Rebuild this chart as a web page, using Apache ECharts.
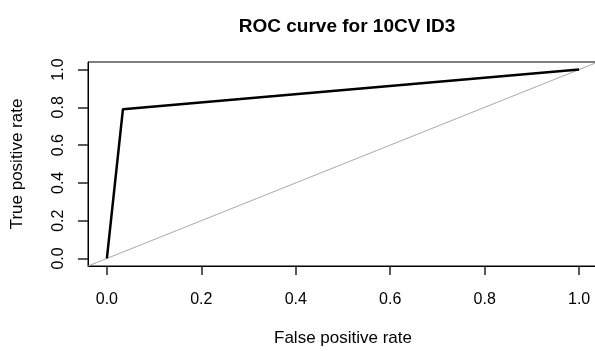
<!DOCTYPE html>
<html>
<head>
<meta charset="utf-8">
<script src="https://cdn.jsdelivr.net/npm/echarts@6/dist/echarts.min.js"></script>
<style>
  html, body { margin: 0; padding: 0; background: #fff; }
  #chart { width: 595px; height: 351px; }
</style>
</head>
<body>
<div id="chart"></div>
<script>
// ROC curve points (false positive rate, true positive rate)
const fpr = [0, 0.034, 1];
const tpr = [0, 0.79, 1];
// chance diagonal y = x, spanning past the plot region and clipped
const chanceX = [-0.1, 1.1];
const chanceY = [-0.1, 1.1];
// tick positions shared by both axes
const ticks = [0, 0.2, 0.4, 0.6, 0.8, 1.0];

const font = '"Liberation Sans", Arial, sans-serif';

const chart = echarts.init(document.getElementById('chart'), null, { renderer: 'canvas' });

chart.setOption({
  animation: false,
  backgroundColor: '#ffffff',
  title: {
    text: 'ROC curve for 10CV ID3',
    left: 342,
    textAlign: 'center',
    top: 12,
    textStyle: { fontFamily: font, fontSize: 19, fontWeight: 'bold', color: '#000' }
  },
  grid: {
    left: 88, right: -3, top: 62, bottom: 85,
    outerBoundsMode: 'none',
    show: true, borderColor: '#000', borderWidth: 1, backgroundColor: 'transparent'
  },
  xAxis: {
    type: 'value',
    min: -0.04, max: 1.04,
    name: 'False positive rate',
    nameLocation: 'middle',
    nameGap: 64,
    nameTextStyle: { fontFamily: font, fontSize: 17, color: '#000' },
    axisLine: { show: true, onZero: false, lineStyle: { color: '#000', width: 1 } },
    axisTick: { show: true, inside: false, length: 9, customValues: ticks, lineStyle: { color: '#222', width: 1.5 } },
    axisLabel: {
      customValues: ticks, margin: 26,
      fontFamily: font, fontSize: 16, color: '#000',
      formatter: v => v.toFixed(1)
    },
    splitLine: { show: false }
  },
  yAxis: {
    type: 'value',
    min: -0.04, max: 1.04,
    name: 'True positive rate',
    nameLocation: 'middle',
    nameGap: 62,
    nameRotate: 90,
    nameTextStyle: { fontFamily: font, fontSize: 17, color: '#000' },
    axisLine: { show: true, onZero: false, lineStyle: { color: '#000', width: 1 } },
    axisTick: { show: true, inside: false, length: 10, customValues: ticks, lineStyle: { color: '#222', width: 1.5 } },
    axisLabel: {
      customValues: ticks, margin: 29, rotate: 90,
      align: 'center', verticalAlign: 'middle',
      fontFamily: font, fontSize: 16, color: '#000',
      formatter: v => v.toFixed(1)
    },
    splitLine: { show: false }
  },
  series: [
    {
      type: 'line',
      data: chanceX.map((x, i) => [x, chanceY[i]]),
      symbol: 'none',
      clip: true,
      lineStyle: { color: '#a8a8a8', width: 1 },
      z: 1
    },
    {
      type: 'line',
      data: fpr.map((x, i) => [x, tpr[i]]),
      symbol: 'none',
      clip: true,
      lineStyle: { color: '#000', width: 2.5 },
      z: 2
    }
  ]
});
</script>
</body>
</html>
